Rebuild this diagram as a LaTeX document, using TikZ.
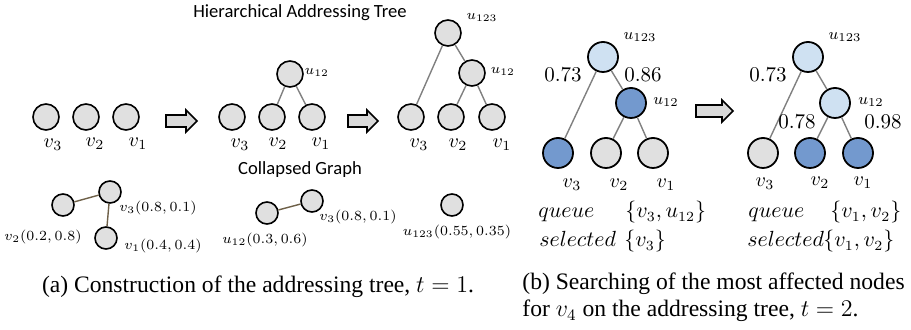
\documentclass[tikz,border=0pt]{standalone}
\usepackage{amsmath}
\usepackage{fontspec}
\usepackage{tikz}
\usetikzlibrary{positioning, calc}
\newfontfamily\capfont{Liberation Serif}
\newfontfamily\headfont{Carlito}

\definecolor{nodegray}{HTML}{E0E0E0}
\definecolor{liteblue}{HTML}{CFE1F2}
\definecolor{deepblue}{HTML}{7399CE}
\definecolor{edgegray}{HTML}{808080}
\definecolor{mergeedge}{HTML}{6E6048}
\definecolor{arrowgray}{HTML}{D9D9D9}

\tikzset{
    vert/.style={circle, draw, line width=0.8pt, fill=nodegray, minimum size=13pt, inner sep=0pt},
    smallvert/.style={vert, minimum size=11pt},
    bigvert/.style={vert, minimum size=15pt, line width=0.9pt},
    lite/.style={bigvert, fill=liteblue},
    deep/.style={bigvert, fill=deepblue},
    link/.style={draw=edgegray, line width=0.7pt},
    mlink/.style={draw=mergeedge, line width=0.7pt},
    vlab/.style={font=\fontsize{10}{12}\selectfont},
    ulab/.style={font=\fontsize{7.5}{9}\selectfont},
    uulab/.style={font=\fontsize{8.5}{10}\selectfont},
    wlab/.style={font=\fontsize{10.5}{12}\selectfont},
    setlab/.style={font=\fontsize{10.5}{13}\selectfont, anchor=base west, inner sep=0pt},
    head/.style={font=\headfont\fontsize{9.3}{11}\selectfont},
    captext/.style={font=\capfont\fontsize{11.8}{13.5}\selectfont, inner sep=0pt},
    pics/fatarrow/.style={code={
        \draw[fill=arrowgray, line width=0.8pt, line join=miter]
            (0,-6) -- ({#1-11},-6) -- ({#1-11},-11) -- (#1,0) -- ({#1-11},11) -- ({#1-11},6) -- (0,6) -- cycle;
    }},
}

\begin{document}
\begin{tikzpicture}[x=0.5pt, y=-0.5pt]
    \useasboundingbox (0,0) rectangle (911,330);

    % (a) 地址树的构建
    \node[head] (title) at (300,13) {Hierarchical Addressing Tree};

    % 初始叶子
    \node[vert] (a1v3) at (46,117) {};
    \node[vert] (a1v2) at (86,117) {};
    \node[vert] (a1v1) at (126,117) {};
    \node[vlab] at (53,145) {$v_3$};
    \node[vlab] at (95,144) {$v_2$};
    \node[vlab] at (138,144) {$v_1$};

    \pic at (166,121) {fatarrow=31};

    % 合并 v1, v2
    \node[vert] (a2v3) at (232,117) {};
    \node[vert] (a2v2) at (272,117) {};
    \node[vert] (a2v1) at (312,117) {};
    \node[vert] (a2u12) at (290,74) {};
    \draw[link] (a2u12) -- (a2v2);
    \draw[link] (a2u12) -- (a2v1);
    \node[vlab] at (240,145) {$v_3$};
    \node[vlab] at (278,144) {$v_2$};
    \node[vlab] at (321,144) {$v_1$};
    \node[ulab] at (317,72) {$u_{12}$};

    \pic at (348,121) {fatarrow=30};

    % 合并 v3, u12
    \node[vert] (a3v3) at (411,117) {};
    \node[vert] (a3v2) at (451,117) {};
    \node[vert] (a3v1) at (492,117) {};
    \node[vert] (a3u12) at (472,73) {};
    \node[vert] (a3u123) at (448,33) {};
    \draw[link] (a3u123) -- (a3v3);
    \draw[link] (a3u123) -- (a3u12);
    \draw[link] (a3u12) -- (a3v2);
    \draw[link] (a3u12) -- (a3v1);
    \node[ulab] at (482,17) {$u_{123}$};
    \node[ulab] at (503,71) {$u_{12}$};
    \node[vlab] at (419,145) {$v_3$};
    \node[vlab] at (458,145) {$v_2$};
    \node[vlab] at (502,145) {$v_1$};

    % 坍缩图
    \node[head] (collapsed) at (300,170) {Collapsed Graph};

    \node[smallvert] (c1v2) at (63,205) {};
    \node[smallvert] (c1v3) at (110,192) {};
    \node[smallvert] (c1v1) at (106,238) {};
    \draw[mlink] (c1v2) -- (c1v3);
    \draw[mlink] (c1v3) -- (c1v1);
    \node[ulab] at (158,208) {$v_3(0.8,0.1)$};
    \node[ulab] at (43,237) {$v_2(0.2,0.8)$};
    \node[ulab] at (163,246) {$v_1(0.4,0.4)$};

    \node[smallvert] (c2u12) at (267,213) {};
    \node[smallvert] (c2v3) at (312,201) {};
    \draw[mlink] (c2u12) -- (c2v3);
    \node[ulab] at (358,217) {$v_3(0.8,0.1)$};
    \node[ulab] at (265,240) {$u_{12}(0.3,0.6)$};

    \node[smallvert] (c3u123) at (452,205) {};
    \node[ulab] at (457,232) {$u_{123}(0.55,0.35)$};

    \node[captext, anchor=base] (capa) at (258,293) {(a) Construction of the addressing tree, $t = 1$.};

    % (b) 搜索受影响最大的节点
    \node[lite] (b1u123) at (603,57) {};
    \node[deep] (b1u12) at (631,103) {};
    \node[deep] (b1v3) at (558,153) {};
    \node[bigvert] (b1v2) at (606,153) {};
    \node[bigvert] (b1v1) at (653,153) {};
    \draw[link] (b1u123) -- (b1v3);
    \draw[link] (b1u123) -- (b1u12);
    \draw[link] (b1u12) -- (b1v2);
    \draw[link] (b1u12) -- (b1v1);
    \node[uulab] at (640,37) {$u_{123}$};
    \node[uulab] at (666,102) {$u_{12}$};
    \node[wlab] at (563,75) {0.73};
    \node[wlab] at (643,75) {0.86};
    \node[vlab] at (572,185) {$v_3$};
    \node[vlab] at (619,185) {$v_2$};
    \node[vlab] at (666,185) {$v_1$};
    \node[setlab] at (538,218) {$queue$};
    \node[setlab] at (625,218) {$\{v_3,u_{12}\}$};
    \node[setlab] at (539,247) {$selected$};
    \node[setlab] at (624,247) {$\{v_3\}$};

    \pic at (696,111) {fatarrow=37};

    \node[lite] (b2u123) at (808,57) {};
    \node[lite] (b2u12) at (835,103) {};
    \node[bigvert] (b2v3) at (763,153) {};
    \node[deep] (b2v2) at (810,153) {};
    \node[deep] (b2v1) at (858,153) {};
    \draw[link] (b2u123) -- (b2v3);
    \draw[link] (b2u123) -- (b2u12);
    \draw[link] (b2u12) -- (b2v2);
    \draw[link] (b2u12) -- (b2v1);
    \node[uulab] at (845,37) {$u_{123}$};
    \node[uulab] at (871,102) {$u_{12}$};
    \node[wlab] at (768,75) {0.73};
    \node[wlab] at (797,122) {0.78};
    \node[wlab] at (883,122) {0.98};
    \node[vlab] at (765,184) {$v_3$};
    \node[vlab] at (820,183) {$v_2$};
    \node[vlab] at (863,183) {$v_1$};
    \node[setlab] at (748,218) {$queue$};
    \node[setlab] at (830,218) {$\{v_1,v_2\}$};
    \node[setlab] at (747,247) {$selected$};
    \node[setlab] at (823,247) {$\{v_1,v_2\}$};

    \node[captext, align=left, anchor=base west] (capb) at (522,317)
        {(b) Searching of the most affected nodes\\for $v_4$ on the addressing tree, $t = 2$.};
\end{tikzpicture}
\end{document}
